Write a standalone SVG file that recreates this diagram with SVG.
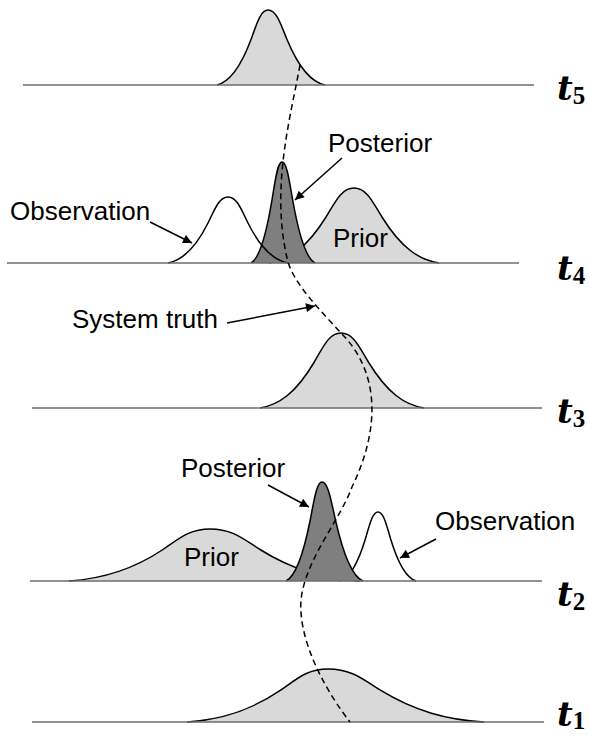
<svg xmlns="http://www.w3.org/2000/svg" width="589" height="737" viewBox="0 0 589 737">
<defs>
<style>
.base{stroke:#6d6d6d;stroke-width:1.5;fill:none}
.prior{fill:#d9d9d9;stroke:#000;stroke-width:1.5}
.post{fill:#7f7f7f;stroke:#000;stroke-width:1.5}
.obs{fill:none;stroke:#000;stroke-width:1.5}
.obsw{fill:#fff;stroke:#000;stroke-width:1.5}
.lbl{font-family:"Liberation Sans",Arial,sans-serif;font-size:26px;fill:#000}
.ti{font-family:"DejaVu Serif",serif;font-weight:bold;font-style:italic;font-size:34px}
.sub{font-family:"Liberation Serif",serif;font-weight:bold;font-size:25px}
.arr{stroke:#000;stroke-width:1.5;fill:none;marker-end:url(#ah)}
.truth{stroke:#000;stroke-width:1.5;fill:none;stroke-dasharray:6 4}
</style>
<marker id="ah" viewBox="0 0 10 10" refX="10" refY="5" markerUnits="userSpaceOnUse" markerWidth="11" markerHeight="9" orient="auto">
<path d="M0,0 L10,5 L0,10 z" fill="#000"/>
</marker>
</defs>
<rect width="589" height="737" fill="#fff"/>

<g id="t5">
<path class="prior" d="M217,85 C228.9,82 239.7,69.85 251,39.5 C256.7,24.35 260.35,10 268,10 C276.55,10 280.7,24.35 287,39.5 C299.7,69.85 311.7,82 325,85"/>
<line class="base" x1="23" y1="85" x2="534" y2="85"/>
<text x="557" y="100"><tspan class="ti">t</tspan><tspan class="sub" dy="4">5</tspan></text>
</g>

<g id="t4">
<path id="t4-prior" class="prior" d="M269,263 C288.9,260 306.8,247.85 325.7,217.5 C335.1,202.35 341.3,188 354,188 C366.7,188 372.9,202.35 382.3,217.5 C401.2,247.85 419.1,260 439,263"/>
<path id="t4-posterior" class="post" d="M251,263 C258.3,259 264.8,242.6 271.7,201.7 C275.1,181.3 277.4,162 282,162 C287,162 289.3,181.3 293,201.7 C300.3,242.6 307.3,259 315,263"/>
<path id="t4-observation" class="obs" d="M168,263 C182,260.4 194.7,249.7 208,223 C214.7,209.6 219,197 228,197 C237,197 241.3,209.6 248,223 C261.3,249.7 274,260.4 288,263"/>
<line class="base" x1="7" y1="263" x2="519" y2="263"/>
<text class="lbl" x="333" y="247">Prior</text>
<text x="557" y="280"><tspan class="ti">t</tspan><tspan class="sub" dy="4">4</tspan></text>
</g>

<g id="t3">
<path class="prior" d="M260,408 C278.9,405 296,392.85 314,362.5 C323,347.35 328.85,333 341,333 C353.5,333 359.5,347.35 368.7,362.5 C387.2,392.85 404.7,405 424,408"/>
<line class="base" x1="32" y1="408" x2="542" y2="408"/>
<text x="557" y="423"><tspan class="ti">t</tspan><tspan class="sub" dy="4">3</tspan></text>
</g>

<g id="t2">
<path id="t2-prior" class="prior" d="M69,581 C101.9,578.9 131.65,570.5 163,549.5 C178.65,538.95 188.85,529 210,529 C232.5,529 243.35,538.95 260,549.5 C293.35,570.5 325,578.9 360,581"/>
<path id="t2-observation" class="obsw" d="M340,581 C348.8,578.2 356.8,567.1 365.3,539.2 C369.5,525.2 372.3,512 378,512 C383.7,512 386.5,525.2 390.7,539.2 C399.2,567.1 407.2,578.2 416,581"/>
<path id="t2-posterior" class="post" d="M286,581 C294.4,577 302,561 310,521 C314,500.9 316.6,482 322,482 C328.2,482 331.1,500.9 335.7,521 C344.8,561 353.5,577 363,581"/>
<line class="base" x1="30" y1="581" x2="542" y2="581"/>
<text class="lbl" x="184" y="566">Prior</text>
<text x="557" y="606"><tspan class="ti">t</tspan><tspan class="sub" dy="4">2</tspan></text>
</g>

<g id="t1">
<path class="prior" d="M187,722 C219.9,719.9 249.65,711.3 281,689.9 C296.65,679.1 306.85,669 328,669 C351.4,669 362.7,679.1 380,689.9 C414.7,711.3 447.6,719.9 484,722"/>
<line class="base" x1="32" y1="722" x2="544" y2="722"/>
<text x="557" y="726"><tspan class="ti">t</tspan><tspan class="sub" dy="3">1</tspan></text>
</g>

<g id="labels">
<text id="lbl-obs4" class="lbl" x="10" y="220">Observation</text>
<text id="lbl-post4" class="lbl" x="328" y="152">Posterior</text>
<text id="lbl-truth" class="lbl" x="72" y="328">System truth</text>
<text id="lbl-post2" class="lbl" x="181" y="477">Posterior</text>
<text id="lbl-obs2" class="lbl" x="435" y="530">Observation</text>
</g>

<g id="connectors">
<path id="system-truth" class="truth" d="M300,65 C290,120 270,190 288,262 C295,285 320,310 341,333 C378,370 382,425 352,487 C340,520 305,560 301,600 C298,640 325,690 350,722"/>
<line class="arr" x1="150" y1="222" x2="192" y2="243"/>
<line class="arr" x1="342" y1="158" x2="295" y2="200"/>
<line class="arr" x1="227" y1="323" x2="315" y2="306"/>
<line class="arr" x1="268" y1="485" x2="309" y2="507"/>
<line class="arr" x1="436" y1="539" x2="400" y2="558"/>
</g>
</svg>
